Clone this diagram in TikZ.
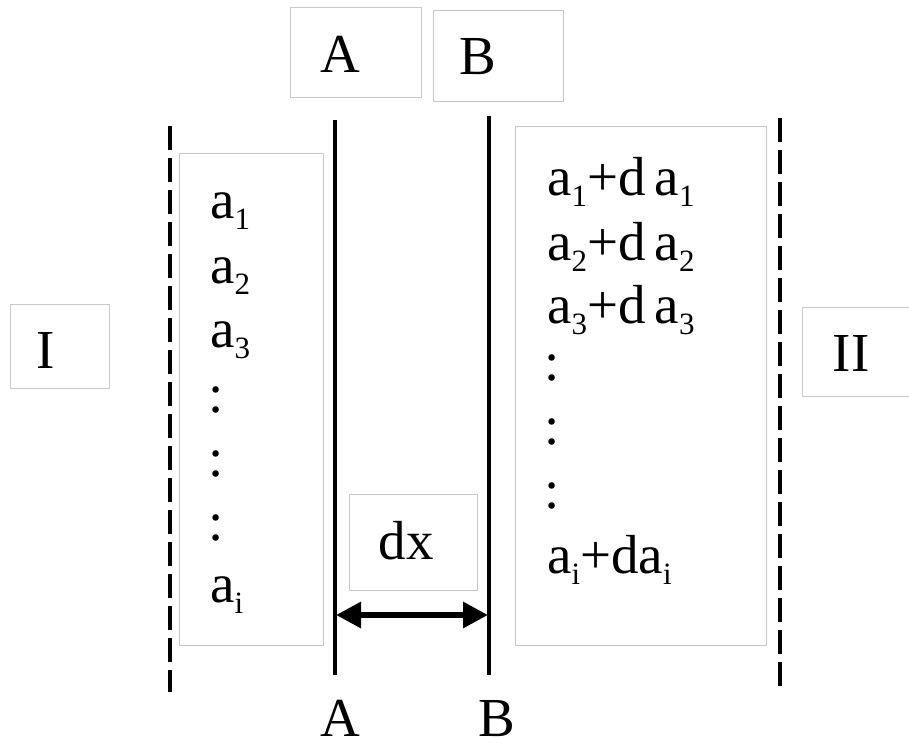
\documentclass[tikz,border=0pt]{standalone}
\usepackage{fontspec}
\setmainfont{Liberation Serif}
\usetikzlibrary{arrows.meta}
\definecolor{framecolor}{RGB}{200,200,200}
\newcommand\idx[1]{\raisebox{-0.2em}{\fontsize{31}{32}\selectfont #1}}

\begin{document}
\begin{tikzpicture}[yscale=-1
,lbox/.style={draw=framecolor,line width=0.8pt,inner sep=0pt,anchor=north west}
,ltext/.style={font=\fontsize{55}{60}\selectfont,inner sep=0pt,anchor=base west}
,ctext/.style={font=\fontsize{55}{60}\selectfont,inner sep=0pt,anchor=base}
,wall/.style={color=black,line width=3.5pt}
,dwall/.style={color=black,line width=4.5pt,dash pattern=on 24pt off 8pt}
,gap/.style={color=black,line width=6pt,{Triangle[length=25pt,width=25pt]}-{Triangle[length=25pt,width=25pt]}}
]
\useasboundingbox (0pt,0pt) rectangle (909pt,748pt);
% frames
\node[lbox,minimum width=131pt,minimum height=90pt] (boxAtop) at (290pt,7pt) {};
\node[lbox,minimum width=130pt,minimum height=91pt] (boxBtop) at (433pt,10pt) {};
\node[lbox,minimum width=99pt,minimum height=84pt] (boxI) at (10pt,304pt) {};
\node[lbox,minimum width=107pt,minimum height=89pt] (boxII) at (802pt,307pt) {};
\node[lbox,minimum width=144pt,minimum height=492pt] (boxL) at (179pt,153pt) {};
\node[lbox,minimum width=251pt,minimum height=519pt] (boxR) at (515pt,126pt) {};
\node[lbox,minimum width=128pt,minimum height=96pt] (boxdx) at (349pt,494pt) {};
% walls
\coordinate (Ltop) at (170pt,126pt);
\coordinate (Lbot) at (170pt,692pt);
\coordinate (Atop) at (335pt,120pt);
\coordinate (Abot) at (335pt,675pt);
\coordinate (Btop) at (489pt,116pt);
\coordinate (Bbot) at (489pt,675pt);
\coordinate (Rtop) at (780pt,118pt);
\coordinate (Rbot) at (780pt,688pt);
\draw[dwall] (Ltop) -- (Lbot);
\draw[wall] (Atop) -- (Abot);
\draw[wall] (Btop) -- (Bbot);
\draw[dwall] (Rtop) -- (Rbot);
% width of the slice
\coordinate (dxL) at (336pt,615pt);
\coordinate (dxR) at (488pt,615pt);
\draw[gap] (dxL) -- (dxR);
% labels
\node[ctext] (labAtop) at (340pt,72pt) {A};
\node[ctext] (labBtop) at (478pt,74pt) {B};
\node[ctext] (labAbot) at (340pt,736pt) {A};
\node[ctext] (labBbot) at (497pt,736pt) {B};
\node[ctext] (labI) at (46pt,368pt) {I};
\node[ctext] (labII) at (851pt,371pt) {II};
\node[ctext] (labdx) at (406pt,559pt) {dx};
% left side
\node[ltext] (l1) at (210pt,218pt) {a\idx{1}};
\node[ltext] (l2) at (210pt,283pt) {a\idx{2}};
\node[ltext] (l3) at (210pt,347pt) {a\idx{3}};
\node[ltext] (l4) at (208pt,412pt) {:};
\node[ltext] (l5) at (208pt,476pt) {:};
\node[ltext] (l6) at (208pt,540pt) {:};
\node[ltext] (l7) at (210pt,602pt) {a\idx{i}};
% right side
\node[ltext] (r1) at (547pt,195pt) {a\idx{1}+d\,a\idx{1}};
\node[ltext] (r2) at (547pt,260pt) {a\idx{2}+d\,a\idx{2}};
\node[ltext] (r3) at (547pt,323pt) {a\idx{3}+d\,a\idx{3}};
\node[ltext] (r4) at (544pt,380pt) {:};
\node[ltext] (r5) at (544pt,444pt) {:};
\node[ltext] (r6) at (544pt,508pt) {:};
\node[ltext] (r7) at (547pt,573pt) {a\idx{i}+da\idx{i}};
\end{tikzpicture}
\end{document}
